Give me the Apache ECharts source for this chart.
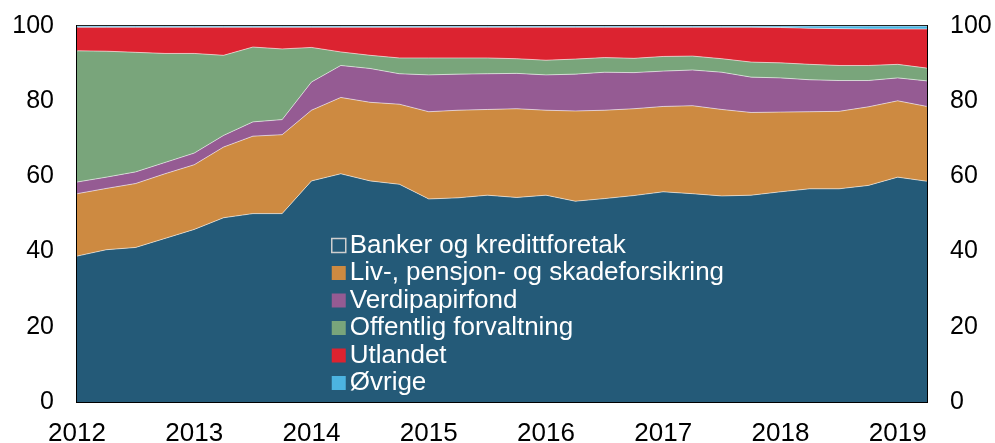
<!DOCTYPE html>
<html>
<head>
<meta charset="utf-8">
<script src="https://cdn.jsdelivr.net/npm/echarts@6/dist/echarts.min.js"></script>
<style>
  html, body { margin: 0; padding: 0; background: #fff; }
  #chart { width: 995px; height: 443px; }
</style>
</head>
<body>
<div id="chart"></div>
<script>
const quarters = [
  '2012K1','2012K2','2012K3','2012K4','2013K1','2013K2','2013K3','2013K4',
  '2014K1','2014K2','2014K3','2014K4','2015K1','2015K2','2015K3','2015K4',
  '2016K1','2016K2','2016K3','2016K4','2017K1','2017K2','2017K3','2017K4',
  '2018K1','2018K2','2018K3','2018K4','2019K1','2019K2'
];
const yTicks = [0, 20, 40, 60, 80, 100];

const banker = [38.8, 40.5, 41.1, 43.5, 45.9, 49.0, 50.1, 50.1, 58.8, 60.7, 58.8, 57.9, 54.0, 54.3, 55.0,
  54.4, 55.0, 53.4, 54.1, 54.9, 55.9, 55.4, 54.8, 55.0, 55.9, 56.7, 56.7, 57.6, 59.8, 58.7];
const livPensjon = [16.6, 16.3, 17.0, 17.2, 17.2, 18.8, 20.6, 21.0, 18.8, 20.3, 20.9, 21.3, 23.2, 23.3, 22.8,
  23.6, 22.6, 24.0, 23.5, 23.1, 22.7, 23.4, 23.0, 22.0, 21.2, 20.5, 20.6, 20.9, 20.3, 19.9];
const verdipapirfond = [3.1, 3.0, 3.1, 3.0, 3.1, 3.1, 3.8, 4.0, 7.5, 8.5, 9.0, 8.1, 9.8, 9.6, 9.5,
  9.4, 9.4, 9.8, 10.1, 9.6, 9.4, 9.5, 9.9, 9.4, 9.1, 8.5, 8.2, 7.0, 6.1, 6.8];
const offentlig = [34.9, 33.5, 31.8, 29.0, 26.5, 21.3, 19.9, 18.8, 9.2, 3.6, 3.5, 4.2, 4.5, 4.3, 4.2,
  3.9, 3.9, 4.0, 3.9, 3.8, 3.9, 3.7, 3.6, 4.0, 4.0, 4.1, 4.0, 4.0, 3.6, 3.4];
const utlandet = [6.3, 6.4, 6.7, 7.0, 7.0, 7.5, 5.3, 5.8, 5.4, 6.6, 7.5, 8.2, 8.2, 8.2, 8.2,
  8.4, 8.8, 8.5, 8.1, 8.3, 7.8, 7.7, 8.4, 9.3, 9.4, 9.6, 9.8, 9.7, 9.4, 10.4];
const ovrige = [0.3, 0.3, 0.3, 0.3, 0.3, 0.3, 0.3, 0.3, 0.3, 0.3, 0.3, 0.3, 0.3, 0.3, 0.3,
  0.3, 0.3, 0.3, 0.3, 0.3, 0.3, 0.3, 0.3, 0.3, 0.4, 0.6, 0.7, 0.8, 0.8, 0.8];

const names = ['Banker og kredittforetak', 'Liv-, pensjon- og skadeforsikring', 'Verdipapirfond',
  'Offentlig forvaltning', 'Utlandet', 'Øvrige'];
const colors = ['#245a78', '#cd8a41', '#955b93', '#79a57b', '#dc2330', '#4cb4e1'];
const values = [banker, livPensjon, verdipapirfond, offentlig, utlandet, ovrige];

const font = 'Arial, "Liberation Sans", sans-serif';
const isYearStart = (i) => i % 4 === 0;

const chart = echarts.init(document.getElementById('chart'));

const yAxisBase = {
  type: 'value',
  min: yTicks[0],
  max: yTicks[yTicks.length - 1],
  interval: 20,
  axisLine: { show: true, lineStyle: { color: '#000', width: 2 } },
  axisTick: { show: true, inside: true, length: 7, lineStyle: { color: '#000', width: 2 } },
  axisLabel: { color: '#000', fontSize: 25, fontFamily: font, margin: 23 },
  splitLine: { show: false }
};

chart.setOption({
  animation: false,
  grid: {
    left: 77, right: 68, top: 26, bottom: 41,
    outerBoundsMode: 'none',
    show: true, borderColor: '#000', borderWidth: 2, backgroundColor: 'transparent'
  },
  legend: {
    orient: 'vertical',
    left: 326,
    top: 227,
    icon: 'rect',
    itemWidth: 14,
    itemHeight: 14,
    itemGap: 0.5,
    textStyle: { color: '#fff', fontSize: 26, lineHeight: 27, fontFamily: font, padding: [0, 0, 0, -1] },
    itemStyle: { borderWidth: 0 },
    data: names.map((n, i) => i === 0
      ? { name: n, itemStyle: { color: colors[0], borderColor: '#cfcfcf', borderWidth: 1.5 } }
      : { name: n })
  },
  xAxis: {
    type: 'category',
    boundaryGap: false,
    data: quarters,
    axisLine: { show: true, lineStyle: { color: '#000', width: 2 } },
    axisTick: { show: true, inside: true, length: 7, interval: (i) => isYearStart(i), lineStyle: { color: '#000', width: 2 } },
    axisLabel: {
      color: '#000', fontSize: 26, fontFamily: font, margin: 19,
      interval: (i) => isYearStart(i),
      formatter: (v) => v.slice(0, 4)
    },
    splitLine: { show: false }
  },
  yAxis: [
    Object.assign({ position: 'left' }, yAxisBase),
    Object.assign({ position: 'right' }, yAxisBase)
  ],
  series: names.map((n, i) => ({
    name: n,
    type: 'line',
    stack: 'total',
    data: values[i],
    showSymbol: false,
    symbol: 'none',
    lineStyle: { color: 'rgba(255,255,255,0.55)', width: 1 },
    itemStyle: { color: colors[i] },
    areaStyle: { color: colors[i], opacity: 1 }
  }))
});

window.addEventListener('resize', chart.resize);
</script>
</body>
</html>
